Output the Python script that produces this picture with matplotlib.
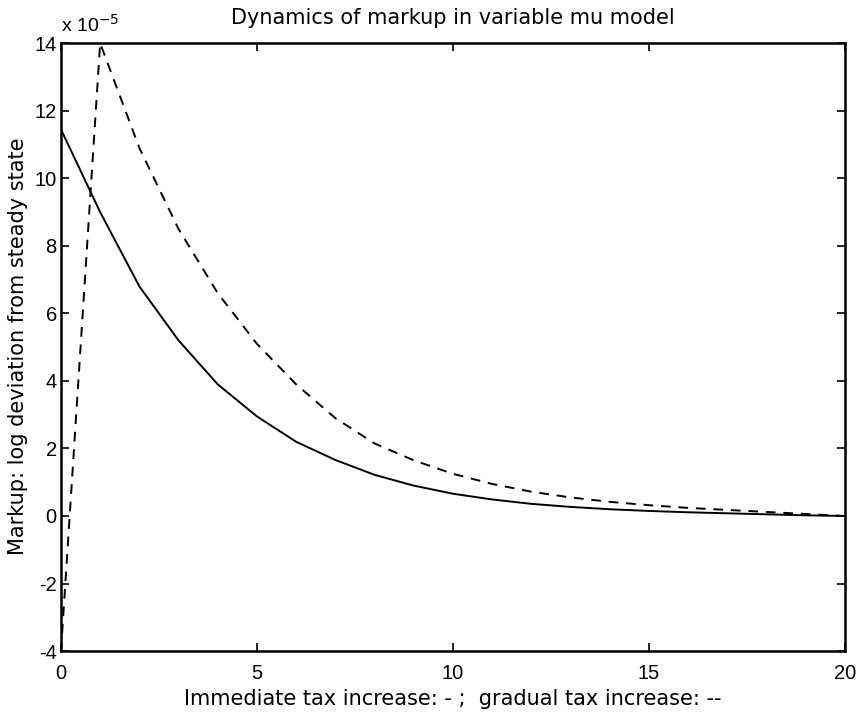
import matplotlib
matplotlib.use("Agg")
import matplotlib.pyplot as plt

periods = list(range(0, 21))
# values in units of 1e-5
immediate = [11.45, 9.0, 6.8, 5.2, 3.9, 2.95, 2.2, 1.66, 1.22, 0.9, 0.66,
             0.49, 0.36, 0.27, 0.2, 0.15, 0.11, 0.08, 0.05, 0.02, 0.0]
gradual = [-4.0, 14.0, 10.9, 8.5, 6.6, 5.1, 3.9, 2.9, 2.15, 1.65, 1.25,
           0.95, 0.72, 0.55, 0.42, 0.32, 0.24, 0.18, 0.12, 0.06, 0.0]
xticks = [0, 5, 10, 15, 20]
yticks = [-4, -2, 0, 2, 4, 6, 8, 10, 12, 14]

plt.rcParams['font.family'] = ['Liberation Sans', 'DejaVu Sans']
label_font = ['DejaVu Sans']

fig = plt.figure(figsize=(8.66, 7.21), dpi=100)
ax = fig.add_axes([0.0704, 0.097, 0.905, 0.843])

ax.plot(periods, immediate, color='black', lw=1.4, linestyle='-')
ax.plot(periods, gradual, color='black', lw=1.4, linestyle=(0, (5, 4)))

ax.set_xlim(0, 20)
ax.set_ylim(-4, 14)
ax.set_xticks(xticks)
ax.set_yticks(yticks)
ax.set_yticklabels([str(v) for v in yticks])
ax.tick_params(direction='in', top=True, right=True, length=6, width=1.2,
               labelsize=14.5, colors='black')
ax.tick_params(axis='x', pad=9)
ax.tick_params(axis='y', pad=3)
for s in ax.spines.values():
    s.set_linewidth(1.8)
    s.set_color('black')

fig.text(0.523, 0.967, 'Dynamics of markup in variable mu model', fontsize=15,
         family=label_font, ha='center', va='baseline')
fig.text(0.523, 0.022, 'Immediate tax increase: - ;  gradual tax increase: --',
         fontsize=15, family=label_font, ha='center', va='baseline')
fig.text(0.021, 0.52, 'Markup: log deviation from steady state', fontsize=15,
         family=label_font, ha='center', va='center', rotation=90)
ax.text(0.0, 1.012, r'x 10$^{-5}$', transform=ax.transAxes, fontsize=14,
        ha='left', va='bottom')

fig.savefig('out.png', dpi=100)
